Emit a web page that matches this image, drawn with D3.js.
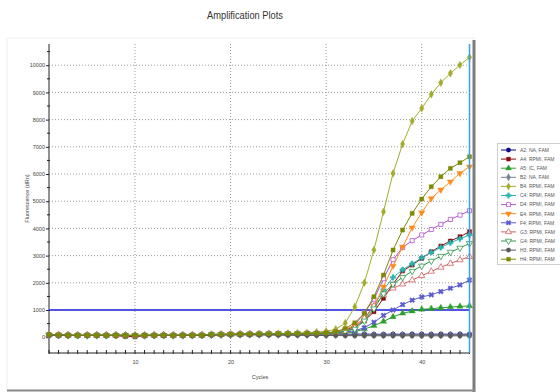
<!DOCTYPE html>
<html>
<head>
<meta charset="utf-8">
<script src="https://cdn.jsdelivr.net/npm/d3@7"></script>
<style>
  body { margin: 0; background: #fff; }
  svg text { font-family: "Liberation Sans Narrow", "Liberation Sans", Arial, sans-serif; }
</style>
</head>
<body>
<div id="chart"></div>
<script>
// cycles on the x axis
const cycles = [1,2,3,4,5,6,7,8,9,10,11,12,13,14,15,16,17,18,19,20,21,22,23,24,25,26,27,28,29,30,31,32,33,34,35,36,37,38,39,40,41,42,43,44,45];

const wellNames = ["A2: NA, FAM", "A4: RPMI, FAM", "A5: IC, FAM", "B2: NA, FAM", "B4: RPMI, FAM", "C4: RPMI, FAM",
  "D4: RPMI, FAM", "E4: RPMI, FAM", "F4: RPMI, FAM", "G3: RPMI, FAM", "G4: RPMI, FAM", "H3: RPMI, FAM", "H4: RPMI, FAM"];

// fluorescence (dRn) per cycle, one array per well
const a2 = [70,75,65,60,68,72,66,70,62,58,66,70,68,64,70,72,74,95,100,98,105,110,108,112,110,115,112,118,115,112,110,108,112,115,110,108,112,110,114,112,110,113,111,112,110];
const a4 = [80,75,70,66,68,70,64,55,30,20,55,62,66,68,70,72,75,100,110,112,118,120,122,125,128,130,135,140,145,160,190,260,400,600,938,1430,1950,2434,2654,2900,3143,3353,3537,3695,3879];
const a5 = [85,78,72,70,66,70,68,72,66,64,68,70,66,68,70,72,70,90,95,98,100,102,105,108,110,112,115,118,120,125,135,150,200,300,420,580,750,880,960,1025,1050,1080,1110,1135,1150];
const b2 = [80,72,68,70,64,66,70,68,72,60,64,66,70,68,66,70,72,85,92,90,95,98,100,98,96,95,92,94,90,88,86,84,82,85,80,82,78,80,82,80,78,80,79,80,78];
const b4 = [90,82,76,70,72,75,70,74,68,66,70,72,74,70,72,75,78,100,108,110,115,120,125,130,135,140,150,165,185,215,290,520,1120,2004,3206,4614,6026,7103,7949,8415,8930,9357,9702,10007,10290];
const c4 = [78,74,68,66,70,68,66,70,64,62,66,68,70,66,68,70,72,95,100,104,108,112,115,118,120,124,128,132,135,140,160,220,350,650,1150,1750,2200,2480,2700,2920,3120,3300,3470,3620,3760];
const d4 = [82,76,70,68,72,70,68,66,62,60,64,68,70,68,70,72,74,98,104,108,112,115,118,122,125,128,132,136,140,148,175,260,450,900,1400,2150,2850,3300,3550,3760,3960,4150,4330,4490,4650];
const e4 = [95,88,80,75,78,80,76,78,72,70,74,76,78,74,76,78,80,102,108,112,116,120,124,128,132,136,140,145,150,160,190,280,444,693,1150,1850,2620,3320,4026,4581,5100,5419,5717,6026,6268];
const f4 = [76,72,68,64,66,68,66,68,62,60,64,66,68,64,66,68,70,92,96,100,104,106,110,112,115,118,120,124,128,132,150,190,240,350,550,800,1000,1200,1360,1480,1560,1680,1800,1920,2100];
const g3 = [84,78,72,68,70,72,68,70,66,62,66,70,72,68,70,72,74,96,100,104,108,112,114,118,120,124,128,132,136,142,165,230,350,700,1150,1550,1800,1950,2100,2260,2420,2570,2710,2840,2960];
const g4 = [80,74,70,66,68,70,66,68,64,62,66,68,70,66,68,70,72,94,98,102,106,110,112,116,118,122,126,130,134,140,162,225,300,600,1050,1600,1950,2200,2430,2620,2800,2980,3130,3280,3450];
const h3 = [75,70,66,62,65,68,64,66,60,62,64,60,62,66,64,62,64,75,80,82,85,84,80,78,76,72,70,68,65,62,60,58,55,56,54,52,55,53,52,50,52,51,50,52,50];
const h4 = [92,85,78,72,74,76,72,74,70,68,72,74,76,72,74,76,78,100,106,110,114,118,122,126,130,134,138,142,148,160,200,320,530,879,1489,2287,3206,3941,4555,5080,5533,5901,6209,6415,6636];

const yTicks = [0,1000,2000,3000,4000,5000,6000,7000,8000,9000,10000];
const xTicks = [10,20,30,40];
const threshold = 1000;

const wellValues = [a2, a4, a5, b2, b4, c4, d4, e4, f4, g3, g4, h3, h4];
const wellColors = ["#0a0a80", "#8b0a0a", "#2aa02a", "#7a8494", "#a2ac2c", "#2ab4b0",
  "#b050d0", "#ff8c1a", "#5a5ad0", "#d06060", "#2e9a4a", "#5a5a5a", "#7e8a06"];
// symbol, filled?, rotation
const wellMarks = [
  [d3.symbolCircle, true, 0], [d3.symbolSquare, true, 0], [d3.symbolTriangle, true, 0],
  [d3.symbolDiamond, true, 0], [d3.symbolDiamond, true, 0], [d3.symbolCross, true, 0],
  [d3.symbolSquare, false, 0], [d3.symbolTriangle, true, 180], [d3.symbolCross, true, 45],
  [d3.symbolTriangle, false, 0], [d3.symbolTriangle, false, 180], [d3.symbolCircle, true, 0],
  [d3.symbolSquare, true, 0]
];

const width = 560, height = 392;
const plot = {left: 49, right: 469.5, top: 44, bottom: 353};

const svg = d3.select("#chart").append("svg")
    .attr("width", width)
    .attr("height", height);

// panel
svg.append("rect")
    .attr("x", 7).attr("y", 38)
    .attr("width", 467).attr("height", 352)
    .attr("fill", "#fff")
    .attr("stroke", "#eeeeee");
svg.append("line")
    .attr("x1", 474).attr("x2", 474).attr("y1", 40).attr("y2", 392)
    .attr("stroke", "#7c7c7c").attr("stroke-width", 3);
svg.append("line")
    .attr("x1", 7).attr("x2", 475).attr("y1", 390.5).attr("y2", 390.5)
    .attr("stroke", "#8a8a8a").attr("stroke-width", 2);

svg.append("text")
    .attr("x", 245).attr("y", 19)
    .attr("text-anchor", "middle")
    .attr("font-size", 10)
    .attr("textLength", 76)
    .attr("lengthAdjust", "spacingAndGlyphs")
    .attr("fill", "#333")
    .text("Amplification Plots");

const x = d3.scaleLinear().domain([1, 45]).range([plot.left, plot.right]);
const y = d3.scaleLinear().domain([-580, 10780]).range([plot.bottom, plot.top]);

// grid
svg.append("g").selectAll("line")
    .data(yTicks.filter(d => d > 0 && d !== threshold))
    .enter().append("line")
    .attr("x1", plot.left).attr("x2", plot.right)
    .attr("y1", d => y(d)).attr("y2", d => y(d))
    .attr("stroke", "#9a9a9a").attr("stroke-dasharray", "1,2");
svg.append("g").selectAll("line")
    .data(xTicks)
    .enter().append("line")
    .attr("x1", d => x(d)).attr("x2", d => x(d))
    .attr("y1", plot.top).attr("y2", plot.bottom)
    .attr("stroke", "#9a9a9a").attr("stroke-dasharray", "1,2");

// axes
const yAxis = svg.append("g")
    .attr("transform", `translate(${plot.left},0)`)
    .call(d3.axisLeft(y).tickValues(yTicks).tickSize(3).tickPadding(1).tickFormat(d3.format("d")));
const xAxis = svg.append("g")
    .attr("transform", `translate(0,${plot.bottom})`)
    .call(d3.axisBottom(x).tickValues(xTicks).tickSize(0).tickPadding(7).tickFormat(d3.format("d")));
[yAxis, xAxis].forEach(a => {
  a.select(".domain").attr("stroke", "#222");
  a.selectAll("text").attr("font-size", 5.5).attr("fill", "#444")
      .style("font-family", "'Liberation Sans Narrow', 'Liberation Sans', sans-serif");
  a.selectAll(".tick line").attr("stroke", "#222");
});
yAxis.select(".domain").attr("d", `M0,${plot.top}V${plot.bottom}`);
xAxis.select(".domain").attr("d", `M${plot.left},0H${plot.right}`);

// minor ticks
const minorY = yTicks.map(d => d + 500);
svg.append("g").selectAll("line")
    .data(minorY)
    .enter().append("line")
    .attr("x1", plot.left - 2).attr("x2", plot.left + 1)
    .attr("y1", d => y(d)).attr("y2", d => y(d))
    .attr("stroke", "#222");
svg.append("g").selectAll("line")
    .data(cycles)
    .enter().append("line")
    .attr("x1", d => x(d)).attr("x2", d => x(d))
    .attr("y1", plot.bottom - 3).attr("y2", plot.bottom + 1)
    .attr("stroke", "#222");

svg.append("text")
    .attr("x", 260).attr("y", 379)
    .attr("text-anchor", "middle")
    .attr("font-size", 5.5).attr("fill", "#444")
    .text("Cycles");
svg.append("text")
    .attr("transform", `translate(29,${(plot.top + plot.bottom) / 2}) rotate(-90)`)
    .attr("text-anchor", "middle")
    .attr("font-size", 5.5).attr("fill", "#444")
    .text("Fluorescence (dRn)");

// threshold
svg.append("line")
    .attr("x1", plot.left).attr("x2", plot.right)
    .attr("y1", y(threshold)).attr("y2", y(threshold))
    .attr("stroke", "#1a1ad8").attr("stroke-width", 1.5);

// curves
const line = d3.line()
    .x((d, i) => x(cycles[i]))
    .y(d => y(d));

const markShape = (k, size) => {
  const m = wellMarks[k];
  return d3.symbol().type(m[0]).size(size)();
};

wellValues.forEach((vals, k) => {
  const g = svg.append("g");
  g.append("path")
      .attr("d", line(vals))
      .attr("fill", "none")
      .attr("stroke", wellColors[k])
      .attr("stroke-width", 1);
  g.selectAll("path.mark")
      .data(vals)
      .enter().append("path")
      .attr("class", "mark")
      .attr("d", markShape(k, 17))
      .attr("transform", (d, i) => `translate(${x(cycles[i])},${y(d)}) rotate(${wellMarks[k][2]})`)
      .attr("fill", wellMarks[k][1] ? wellColors[k] : "#fff")
      .attr("stroke", wellColors[k])
      .attr("stroke-width", wellMarks[k][1] ? 0.4 : 0.8);
});

// right cursor line
svg.append("line")
    .attr("x1", plot.right).attr("x2", plot.right)
    .attr("y1", plot.top).attr("y2", plot.bottom)
    .attr("stroke", "#3aa0e0").attr("stroke-width", 1.5);

// legend
const legend = svg.append("g");
legend.append("rect")
    .attr("x", 497.5).attr("y", 143.5)
    .attr("width", 80).attr("height", 121)
    .attr("fill", "#fff").attr("stroke", "#cfcfcf");
const items = legend.selectAll("g.item")
    .data(wellNames)
    .enter().append("g")
    .attr("class", "item")
    .attr("transform", (d, i) => `translate(0,${150 + i * 9.1})`);
items.append("line")
    .attr("x1", 501).attr("x2", 516)
    .attr("stroke", (d, i) => wellColors[i]).attr("stroke-width", 1);
items.append("path")
    .attr("d", (d, i) => markShape(i, 16))
    .attr("transform", (d, i) => `translate(508.5,0) rotate(${wellMarks[i][2]})`)
    .attr("fill", (d, i) => wellMarks[i][1] ? wellColors[i] : "#fff")
    .attr("stroke", (d, i) => wellColors[i])
    .attr("stroke-width", (d, i) => wellMarks[i][1] ? 0.3 : 0.8);
items.append("text")
    .attr("x", 520).attr("y", 1.8)
    .attr("font-size", 5)
    .attr("fill", "#555")
    .text(d => d);
</script>
</body>
</html>
